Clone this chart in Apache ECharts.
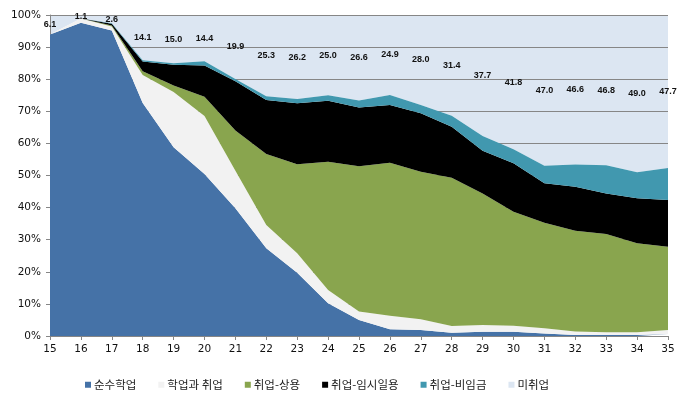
<!DOCTYPE html>
<html>
<head>
<meta charset="utf-8">
<script src="https://cdn.jsdelivr.net/npm/echarts@6/dist/echarts.min.js"></script>
<style>html,body{margin:0;padding:0;background:#fff}#c{width:690px;height:401px}</style>
</head>
<body>
<div id="c"></div>
<script>
const ages = ['15','16','17','18','19','20','21','22','23','24','25','26','27','28','29','30','31','32','33','34','35'];
const yTicks = [0,10,20,30,40,50,60,70,80,90,100];
const seriesNames = ['순수학업','학업과 취업','취업-상용','취업-임시일용','취업-비임금','미취업'];
const pureStudy = [93.9, 97.6, 95.2, 72.6, 58.8, 50.5, 39.8, 27.3, 19.7, 10.2, 5.0, 2.1, 1.9, 1.0, 1.3, 1.3, 0.8, 0.3, 0.3, 0.3, 0.6];
const studyWork = [0, 1.3, 1.2, 8.7, 17.2, 18.0, 11.7, 7.3, 6.1, 4.1, 2.6, 4.2, 3.3, 2.1, 2.1, 1.9, 1.6, 1.1, 0.9, 0.9, 1.3];
const regular = [0, 0, 0.3, 1.2, 2.0, 6.0, 12.5, 22.1, 27.7, 40.0, 45.3, 47.7, 46.0, 46.2, 41.0, 35.5, 32.9, 31.4, 30.6, 27.7, 25.9];
const temporary = [0, 0, 0.6, 3.0, 6.5, 9.8, 15.4, 16.8, 19.0, 19.0, 18.3, 18.0, 18.2, 15.9, 13.3, 15.1, 12.3, 13.7, 12.6, 14.0, 14.6];
const nonWage = [0, 0, 0.1, 0.4, 0.5, 1.3, 0.7, 1.2, 1.3, 1.7, 2.2, 3.1, 2.6, 3.4, 4.6, 4.4, 5.4, 6.9, 8.8, 8.1, 9.9];
const unemployed = [6.1, 1.1, 2.6, 14.1, 15.0, 14.4, 19.9, 25.3, 26.2, 25.0, 26.6, 24.9, 28.0, 31.4, 37.7, 41.8, 47.0, 46.6, 46.8, 49.0, 47.7];

const colors = ['#4572A7', '#F2F2F2', '#89A54E', '#000000', '#4198AF', '#DCE6F2'];
const allData = [pureStudy, studyWork, regular, temporary, nonWage, unemployed];

const series = [];
allData.forEach((d, i) => {
  series.push({
    name: seriesNames[i],
    type: 'line',
    stack: 'total',
    data: d,
    symbol: 'none',
    showSymbol: false,
    lineStyle: { width: 0 },
    itemStyle: { color: colors[i] },
    areaStyle: { color: colors[i], opacity: 1 },
    z: i === 5 ? -1 : 2,
    silent: true
  });
});
// invisible stacked bars used only to centre the 미취업 labels in their band
allData.forEach((d, i) => {
  series.push({
    name: '_lbl' + i,
    type: 'bar',
    stack: 'labels',
    data: d,
    barWidth: 10,
    itemStyle: { color: 'rgba(0,0,0,0)' },
    silent: true,
    z: 10,
    label: i === 5 ? {
      show: true,
      position: 'inside',
      formatter: p => p.value.toFixed(1),
      fontFamily: 'Liberation Sans, Arial, sans-serif',
      fontWeight: 'bold',
      fontSize: 9,
      color: '#111'
    } : { show: false }
  });
});

const chart = echarts.init(document.getElementById('c'), null, { renderer: 'canvas' });
chart.setOption({
  animation: false,
  backgroundColor: '#fff',
  grid: { left: 50, right: 22, top: 15, bottom: 65, containLabel: false },
  legend: {
    data: seriesNames.map((n, i) => ({ name: n, itemStyle: { color: colors[i] } })),
    left: 80,
    top: 374,
    icon: 'rect',
    itemWidth: 6,
    itemHeight: 6,
    itemGap: 22,
    textStyle: { fontFamily: 'Noto Sans CJK KR, sans-serif', fontSize: 11.5, color: '#222', padding: [0, 0, 0, -2] }
  },
  xAxis: {
    type: 'category',
    data: ages,
    boundaryGap: false,
    axisLine: { show: true, lineStyle: { color: '#868686', width: 1 } },
    axisTick: { show: true, alignWithLabel: true, inside: false, length: 4, lineStyle: { color: '#868686' } },
    axisLabel: { fontFamily: 'DejaVu Sans, sans-serif', fontSize: 10.5, color: '#111', margin: 8, interval: 0 },
    splitLine: { show: false }
  },
  yAxis: {
    type: 'value',
    min: yTicks[0],
    max: yTicks[yTicks.length - 1],
    interval: 10,
    axisLine: { show: true, lineStyle: { color: '#868686', width: 1 } },
    axisTick: { show: true, length: 4, lineStyle: { color: '#868686' } },
    axisLabel: { fontFamily: 'DejaVu Sans, sans-serif', fontSize: 10.5, color: '#111', margin: 9, formatter: v => v + '%' },
    splitLine: { show: true, lineStyle: { color: '#868686', width: 1 } }
  },
  series: series
});
</script>
</body>
</html>
